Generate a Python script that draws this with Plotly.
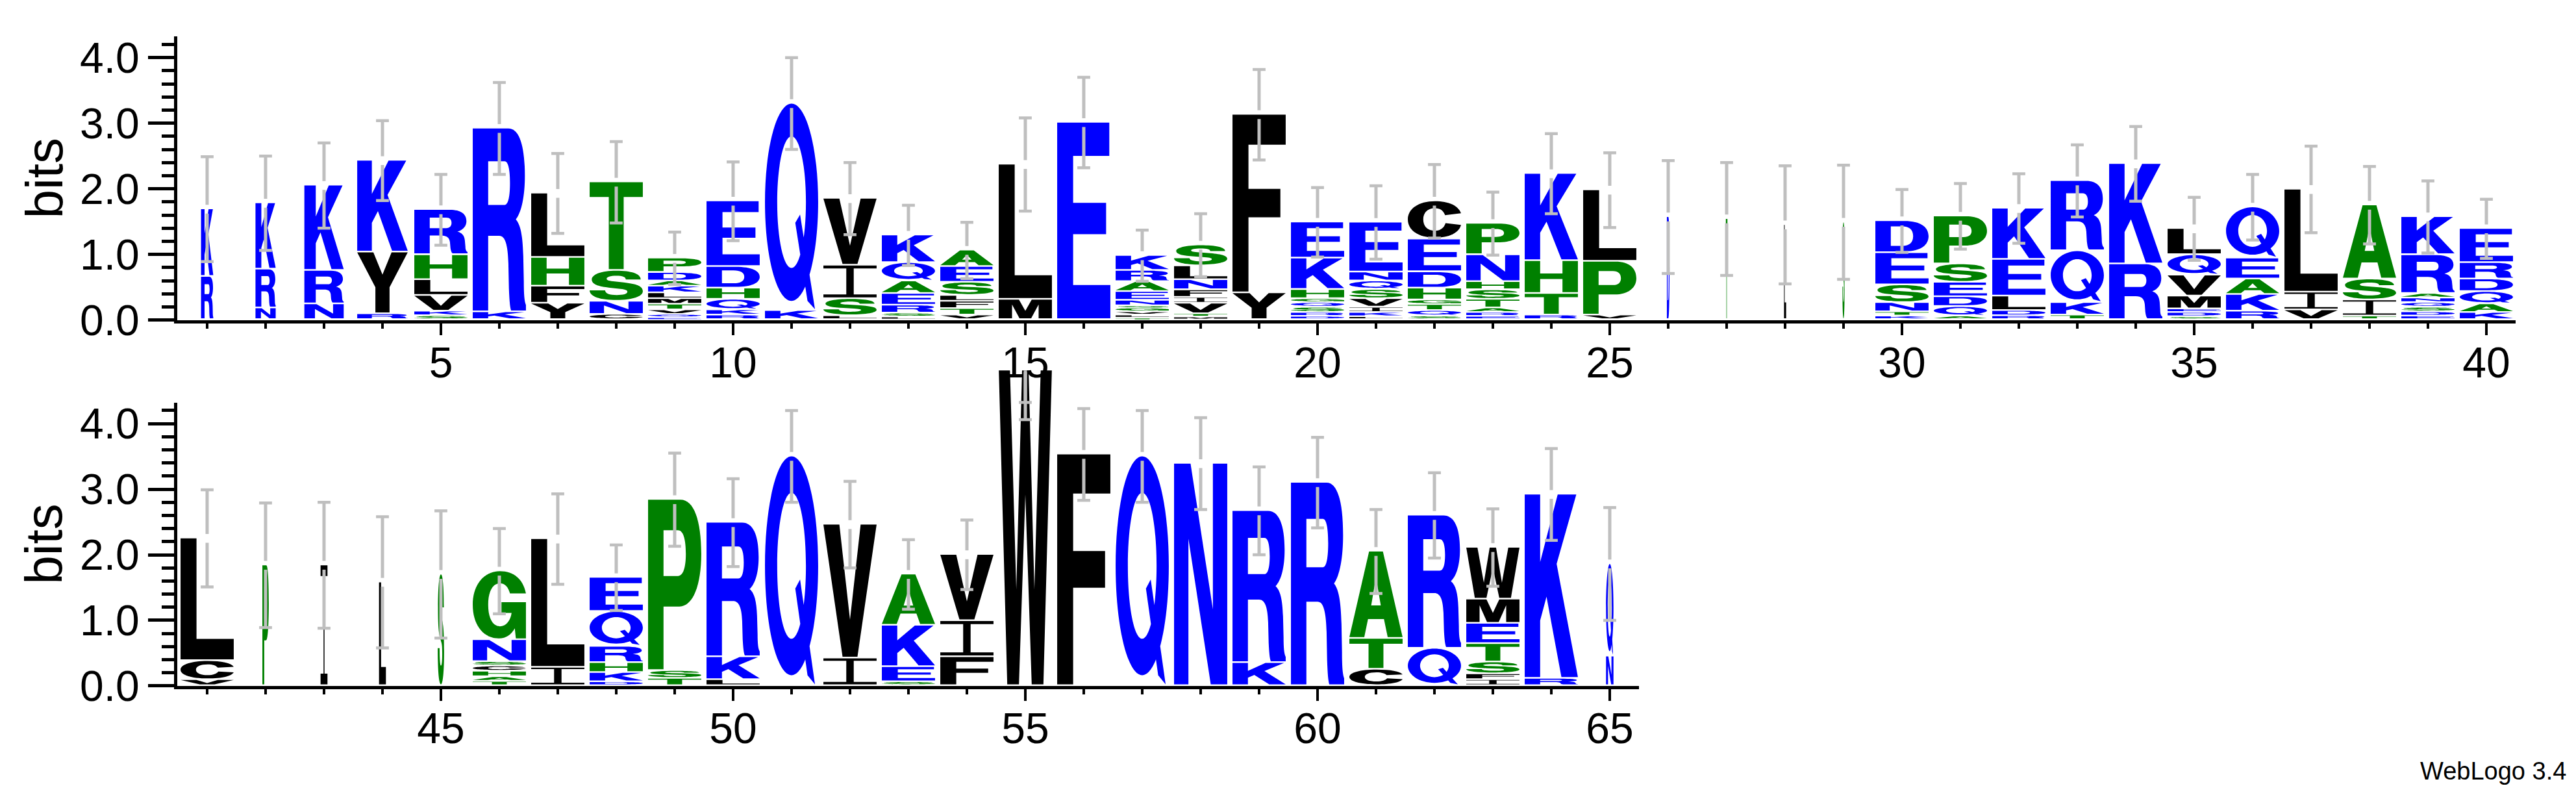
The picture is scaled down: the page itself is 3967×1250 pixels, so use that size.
import re
import plotly.graph_objects as go

# ---------------- data ----------------
positions = list(range(1, 66))
stack_letters = [
    "RK", "NRK", "NRK", "RYK", "SKVLHR", "KR", "YFHL", "CNST", "EQVTMLKADP", "RKQHDE",
    "KQ", "LSIV", "LSREAQK", "VTFLSEA", "ML", "E", "TLVGSNEARK", "MTVIFNLS", "YF", "DRSQGHKE",
    "LKIVSQNE", "SQTGHDEC", "ERATSHNP", "RTHK", "VPL", "D", "T", "L", "S", "KTNSED",
    "AQDESP", "RDLEK", "TKQR", "RK", "SDEMVQL", "RKAEQ", "VIL", "TISA", "EDSQNARK", "KAQDRE",
    "VCL", "P", "I", "L", "S", "TAHCSNG", "IL", "DKHRQE", "TSP", "LKR",
    "Q", "IV", "SEKA", "FIV", "W", "F", "Q", "N", "KR", "R",
    "CTA", "QR", "IFSTEMW", "RK", "NQ"]
stack_heights = [
    [.66, 1.03], [.18, .59, 1.01], [.24, .51, 1.30], [.09, .94, 1.40],
    [.06, .07, .24, .24, .38, .69], [.12, 2.80], [.25, .26, .44, .98], [.08, .20, .47, 1.35],
    [.03, .05, .07, .085, .085, .09, .10, .08, .13, .22], [.07, .08, .16, .17, .33, 1.00],
    [.14, 3.16], [.06, .26, .51, 1.02], [.04, .06, .12, .18, .19, .28, .42],
    [.07, .10, .11, .09, .20, .24, .25], [.31, 2.06], [3.01],
    [.024, .046, .05, .06, .03, .085, .135, .15, .17, .23],
    [.04, .05, .16, .09, .115, .155, .21, .32], [.41, 2.72],
    [.05, .06, .08, .07, .06, .14, .48, .55],
    [.046, .064, .08, .13, .14, .13, .137, .76],
    [.056, .084, .09, .07, .18, .25, .50, .58],
    [.05, .06, .07, .13, .145, .125, .41, .48],
    [.07, .33, .50, 1.33], [.07, .82, 1.09], [1.57], [1.54], [1.45], [1.49],
    [.055, .065, .14, .27, .49, .49], [.055, .145, .15, .22, .28, .73],
    [.06, .08, .22, .56, .78], [.07, .19, .79, 1.07], [.85, 1.53],
    [.044, .066, .055, .195, .32, .31, .40], [.13, .255, .235, .32, .78],
    [.15, .27, 1.57], [.055, .245, .32, 1.13],
    [.055, .065, .07, .07, .07, .07, .59, .58], [.11, .13, .19, .19, .25, .52],
    [.09, .29, 1.87], [1.84], [1.84], [1.58], [1.70],
    [.065, .07, .085, .08, .067, .333, 1.05], [.28, 1.96],
    [.06, .14, .15, .25, .53, .52], [.11, .12, 2.61], [.09, .35, 2.05],
    [3.50], [.42, 2.04], [.06, .23, .63, .78], [.44, .55, 1.01], [4.85], [3.53],
    [3.50], [3.39], [.35, 2.32], [3.10], [.25, .47, 1.33], [.57, 2.03],
    [.09, .09, .18, .28, .31, .37, .79], [.11, 2.81], [.45, 1.41]]
stack_widths = ([0.23, 0.38, 0.74, 0.95] + [1.0] * 21 + [0.05, 0.03, 0.04, 0.04]
                + [1.0] * 12 + [0.12, 0.13, 0.13, 0.12] + [1.0] * 19 + [0.14])
error_half = [
    .80, .72, .65, .61, .54, .70, .61, .62, .40, .60,
    .70, .55, .46, .43, .71, .69, .39, .48, .69, .53,
    .56, .56, .48, .61, .57, .86, .86, .90, .87, .48,
    .50, .53, .55, .57, .48, .50, .66, .59, .55, .45,
    .74, .95, .96, 1.00, .97, .65, .69, .50, .71, .67,
    .70, .66, .53, .53, .79, .70, .70, .70, .67, .69,
    .64, .65, .59, .70, .86]
ytick_vals = [0, 1, 2, 3, 4]
ytick_text = ["0.0", "1.0", "2.0", "3.0", "4.0"]
top_xticks = [5, 10, 15, 20, 25, 30, 35, 40]
bottom_xticks = [45, 50, 55, 60, 65]
max_bits = 4.3219

BLUE, GREEN, BLACK, GREY = "#0000ff", "#008000", "#000000", "#bfbfbf"
letter_colors = {}
for c in "KRNDEQ":
    letter_colors[c] = BLUE
for c in "TSHPAG":
    letter_colors[c] = GREEN
for c in "LYVIFMWC":
    letter_colors[c] = BLACK

FONT = "Liberation Sans, Arial, Helvetica, sans-serif"

# ---------------- glyph outlines (unit box 0..100, y up) ----------------
GLYPHS = {
    "A": [("M0,0 L28,0 L35,21 L65,21 L72,0 L100,0 L63,100 L37,100 Z", 0),
          ("M41,37 L59,37 L50,70 Z", 1)],
    "C": [("M100,67 C95,88 77,100 51,100 C20,100 0,79 0,50 C0,20 20,0 51,0 C78,0 96,13 100,35 "
           "L71,40 C68,27 61,19 51,19 C37,19 29,31 29,50 C29,69 37,81 51,81 C61,81 67,74 70,62 Z", 0)],
    "D": [("M0,0 L55,0 C85,0 100,20 100,50 C100,80 85,100 55,100 L0,100 Z", 0),
          ("M29,18 L51,18 C64,18 71,29 71,50 C71,71 64,82 51,82 L29,82 Z", 1)],
    "E": [("M0,0 L100,0 L100,17 L30,17 L30,43 L92,43 L92,59 L30,59 L30,83 L98,83 L98,100 L0,100 Z", 0)],
    "F": [("M0,0 L30,0 L30,42 L90,42 L90,58 L30,58 L30,83 L100,83 L100,100 L0,100 Z", 0)],
    "G": [("M100,67 C95,88 77,100 51,100 C20,100 0,79 0,50 C0,20 20,0 49,0 C63,0 73,6 79,15 "
           "L81,0 L100,0 L100,54 L54,54 L54,38 L73,38 C71,26 62,18 51,18 C37,18 29,31 29,50 "
           "C29,69 37,82 51,82 C61,82 67,76 70,67 Z", 0)],
    "H": [("M0,0 L29,0 L29,42 L71,42 L71,0 L100,0 L100,100 L71,100 L71,60 L29,60 L29,100 L0,100 Z", 0)],
    "I": [("M0,0 L100,0 L100,9 L57,9 L57,91 L100,91 L100,100 L0,100 L0,91 L43,91 L43,9 L0,9 Z", 0)],
    "K": [("M0,0 L29,0 L29,31 L41,44 L69,0 L100,0 L60,62 L97,100 L62,100 L29,63 L29,100 L0,100 Z", 0)],
    "L": [("M0,0 L100,0 L100,17 L30,17 L30,100 L0,100 Z", 0)],
    "M": [("M0,0 L25,0 L25,74 L39,0 L61,0 L75,74 L75,0 L100,0 L100,100 L62,100 L50,40 L38,100 L0,100 Z", 0)],
    "N": [("M0,0 L27,0 L27,66 L69,0 L100,0 L100,100 L73,100 L73,34 L31,100 L0,100 Z", 0)],
    "P": [("M0,0 L29,0 L29,37 L59,37 C85,37 100,50 100,68 C100,88 86,100 61,100 L0,100 Z", 0),
          ("M29,55 L56,55 C66,55 71,60 71,68 C71,77 66,82 56,82 L29,82 Z", 1)],
    "Q": [("M50,100 C77.6,100 100,78.5 100,52 C100,25.5 77.6,4 50,4 C22.4,4 0,25.5 0,52 C0,78.5 22.4,100 50,100 Z", 0),
          ("M50,84 C65,84 77,70 77,52 C77,34 65,20 50,20 C35,20 23,34 23,52 C23,70 35,84 50,84 Z", 1),
          ("M57,42 L66,46 L94,0 L80,4 Z", 0)],
    "R": [("M0,0 L29,0 L29,41 L50,41 C61,41 66,36 67,26 L68,12 C69,5 70,2 72,0 L100,0 L100,3 "
           "C97,5 96,9 96,16 L95,30 C94,41 90,47 81,50 C92,54 98,63 98,74 C98,91 87,100 67,100 L0,100 Z", 0),
          ("M29,58 L60,58 C67,58 70,63 70,70 C70,77 67,82 60,82 L29,82 Z", 1)],
    "S": [("M96,70 C96,90 78,100 50,100 C22,100 4,87 4,70 C4,53 17,46 38,42 L58,38 C68,36 71,33 71,28 "
           "C71,21 63,17 51,17 C37,17 30,22 29,33 L0,33 C0,12 19,0 51,0 C81,0 100,12 100,30 "
           "C100,48 87,55 64,60 L44,64 C35,66 32,68 32,73 C32,79 39,83 50,83 C62,83 68,79 68,70 Z", 0)],
    "T": [("M36,0 L64,0 L64,83 L100,83 L100,100 L0,100 L0,83 L36,83 Z", 0)],
    "V": [("M0,100 L30,100 L50,28 L70,100 L100,100 L64,0 L36,0 Z", 0)],
    "W": [("M0,100 L21,100 L33,30 L44,100 L56,100 L67,30 L79,100 L100,100 L84,0 L62,0 L50,60 L38,0 L16,0 Z", 0)],
    "Y": [("M0,100 L32,100 L50,63 L68,100 L100,100 L64,42 L64,0 L36,0 L36,42 Z", 0)],
}


def parse_path(s):
    toks = re.findall(r"[MLCZ]|-?\d+(?:\.\d+)?", s)
    subs, cur, i = [], None, 0
    while i < len(toks):
        t = toks[i]
        if t == "M":
            cur = {"start": (float(toks[i + 1]), float(toks[i + 2])), "segs": []}
            subs.append(cur)
            i += 3
        elif t == "L":
            cur["segs"].append(("L", [(float(toks[i + 1]), float(toks[i + 2]))]))
            i += 3
        elif t == "C":
            pts = [(float(toks[i + 1 + 2 * k]), float(toks[i + 2 + 2 * k])) for k in range(3)]
            cur["segs"].append(("C", pts))
            i += 7
        else:
            i += 1
    return subs


def signed_area(sub):
    pts = [sub["start"]] + [p for _, ps in sub["segs"] for p in ps]
    a = 0.0
    for j in range(len(pts)):
        x1, y1 = pts[j]
        x2, y2 = pts[(j + 1) % len(pts)]
        a += x1 * y2 - x2 * y1
    return a / 2


def reverse_sub(sub):
    starts = [sub["start"]] + [ps[-1] for _, ps in sub["segs"]]
    segs = []
    for k in range(len(sub["segs"]) - 1, -1, -1):
        typ, ps = sub["segs"][k]
        s = starts[k]
        if typ == "L":
            segs.append(("L", [s]))
        else:
            segs.append(("C", [ps[1], ps[0], s]))
    return {"start": starts[-1], "segs": segs}


GLYPH_SUBS = {}
for letter, parts in GLYPHS.items():
    subs = []
    for path, hole in parts:
        for sub in parse_path(path):
            a = signed_area(sub)
            if (hole and a > 0) or (not hole and a < 0):
                sub = reverse_sub(sub)
            subs.append(sub)
    GLYPH_SUBS[letter] = subs


def glyph_path(letter, x0, y0, w, h):
    def tr(p):
        return "%.4f,%.4f" % (x0 + p[0] / 100.0 * w, y0 + p[1] / 100.0 * h)
    out = []
    for sub in GLYPH_SUBS[letter]:
        out.append("M" + tr(sub["start"]))
        for typ, ps in sub["segs"]:
            out.append(typ + " ".join(tr(p) for p in ps))
        out.append("Z")
    return " ".join(out)


# ---------------- build figure ----------------
FULL_W = 0.91      # stack width in position units for a fully occupied column
GAP = 0.025        # small vertical gap under each glyph (bits)
shapes = []
err = {"top": ([], [], [], []), "bot": ([], [], [], [])}
EB_GAP = 0.067
CAP = 0.11

for i, pos in enumerate(positions):
    panel = "top" if pos <= 40 else "bot"
    xref, yref = ("x", "y") if panel == "top" else ("x2", "y3")
    w = FULL_W * stack_widths[i]
    base = 0.0
    for letter, h in zip(stack_letters[i], stack_heights[i]):
        gh = max(h - GAP, min(0.6 * h, 0.02))
        shapes.append(dict(
            type="path", xref=xref, yref=yref, layer="below",
            path=glyph_path(letter, pos - w / 2, base + h - gh, w, gh),
            fillcolor=letter_colors[letter], line=dict(width=0), fillrule="nonzero"))
        base += h
    c = base
    e = error_half[i]
    lo = c - e
    hi = min(c + e, max_bits)
    vx, vy, cx, cy = err[panel]
    vx += [pos, pos, None, pos, pos, None]
    vy += [c + EB_GAP, hi, None, c - EB_GAP, lo, None]
    cx += [pos - CAP, pos + CAP, None, pos - CAP, pos + CAP, None]
    cy += [hi, hi, None, lo, lo, None]

fig = go.Figure()
for panel, (xa, ya) in (("top", ("x", "y")), ("bot", ("x2", "y3"))):
    vx, vy, cx, cy = err[panel]
    fig.add_trace(go.Scatter(x=vx, y=vy, mode="lines", xaxis=xa, yaxis=ya,
                             line=dict(color=GREY, width=5), hoverinfo="skip"))
    fig.add_trace(go.Scatter(x=cx, y=cy, mode="lines", xaxis=xa, yaxis=ya,
                             line=dict(color=GREY, width=4.5), hoverinfo="skip"))
fig.add_trace(go.Scatter(x=[None], y=[None], xaxis="x2", yaxis="y2", hoverinfo="skip"))

tickfont = dict(family=FONT, size=66, color="black")
xcommon = dict(showline=True, linewidth=5, linecolor="black", ticks="outside",
               ticklen=18, tickwidth=4, tickcolor="black", showgrid=False, zeroline=False,
               tickfont=tickfont, tickmode="array", ticklabelstandoff=-14,
               minor=dict(ticks="outside", dtick=1, tick0=0, ticklen=8, tickwidth=4,
                          tickcolor="black", showgrid=False))
ycommon = dict(showline=True, linewidth=5, linecolor="black", ticks="outside",
               ticklen=40, tickwidth=4.5, tickcolor="black", showgrid=False, zeroline=False,
               tickfont=tickfont, tickmode="array", tickvals=ytick_vals, ticktext=ytick_text,
               minor=dict(ticks="outside", dtick=0.2, tick0=0, ticklen=19, tickwidth=4.5,
                          tickcolor="black", showgrid=False))

W, H = 3967, 1250
top_zero, bot_zero, px_per_bit = 497.5, 1079.5, 104.3
left_px = 265.0

fig.update_layout(
    width=W, height=H, autosize=False, margin=dict(l=0, r=0, t=0, b=0, pad=0),
    paper_bgcolor="white", plot_bgcolor="rgba(0,0,0,0)", showlegend=False,
    xaxis=dict(domain=[left_px / W, (311 + 39.5 * 90) / W], range=[0.489, 40.5],
               anchor="y", tickvals=top_xticks, ticktext=[str(v) for v in top_xticks], **xcommon),
    yaxis=dict(domain=[(H - top_zero) / H, (H - top_zero + max_bits * px_per_bit) / H],
               range=[0, max_bits], anchor="x", **ycommon),
    xaxis2=dict(domain=[left_px / W, (311 + 24.5 * 90) / W], range=[40.489, 65.5],
                anchor="y2", tickvals=bottom_xticks, ticktext=[str(v) for v in bottom_xticks], **xcommon),
    yaxis2=dict(domain=[(H - bot_zero) / H, (H - bot_zero + max_bits * px_per_bit) / H],
                range=[0, max_bits], anchor="x2", **ycommon),
    yaxis3=dict(domain=[(H - bot_zero) / H, (H - bot_zero + 4.81 * px_per_bit) / H],
                range=[0, 4.81], anchor="x2", visible=False, showgrid=False, zeroline=False),
    shapes=shapes,
    annotations=[
        dict(text="bits", xref="paper", yref="paper", x=60 / W,
             y=(H - (top_zero - max_bits * px_per_bit / 2)) / H, textangle=-90,
             showarrow=False, xanchor="center", yanchor="middle",
             font=dict(family=FONT, size=80, color="black")),
        dict(text="bits", xref="paper", yref="paper", x=60 / W,
             y=(H - (bot_zero - max_bits * px_per_bit / 2)) / H, textangle=-90,
             showarrow=False, xanchor="center", yanchor="middle",
             font=dict(family=FONT, size=80, color="black")),
        dict(text="WebLogo 3.4", xref="paper", yref="paper", x=3946 / W, y=(H - 1215) / H,
             showarrow=False, xanchor="right", yanchor="middle",
             font=dict(family=FONT, size=38, color="black")),
    ],
)

fig.write_html("out.html")
